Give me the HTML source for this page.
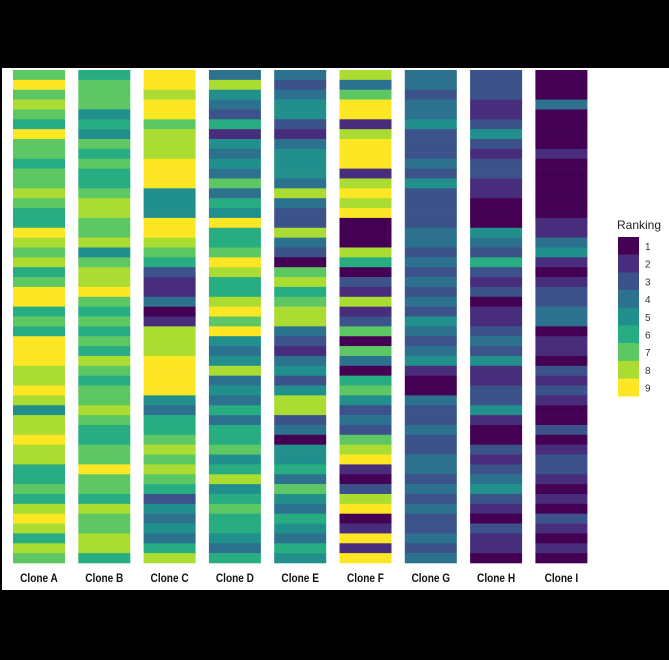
<!DOCTYPE html>
<html><head><meta charset="utf-8">
<style>
html,body{margin:0;padding:0;background:#000;width:669px;height:660px;overflow:hidden}
svg{display:block}
</style></head>
<body>
<svg id="chart" width="669" height="660" xmlns="http://www.w3.org/2000/svg">
<rect x="2" y="68" width="667" height="522" fill="#fff"/>
<g id="cells"></g>
<g id="labels" transform="scale(0.84,1)"></g>
<g id="legend">
<text x="617" y="229" font-family="Liberation Sans, sans-serif" font-size="12" fill="#222">Ranking</text>
</g>
</svg>
<script>
const clones = ["Clone A","Clone B","Clone C","Clone D","Clone E","Clone F","Clone G","Clone H","Clone I"];
const rankLevels = [1,2,3,4,5,6,7,8,9];
const rankColors = ["#440154","#472D7B","#3B528B","#2C728E","#21908C","#27AD81","#5DC863","#AADC32","#FDE725"];
const cloneA = [7,9,7,8,7,6,9,7,7,6,7,7,8,7,6,6,9,8,7,8,6,7,9,9,6, 7,6,9,9,9,8,8,9,8,5,8,8,9,8,8,6,6,7,6,8,9,8,6,8,7];
const cloneB = [6,7,7,7,5,6,5,7,6,7,6,6,7,8,8,7,7,8,5,7,8,8,9,7,6, 7,6,7,6,8,7,6,7,7,8,7,6,6,7,7,9,7,7,6,8,7,7,8,8,6];
const cloneC = [9,9,8,9,9,7,8,8,8,9,9,9,5,5,5,9,9,8,7,6,3,2,2,4,1, 2,8,8,8,9,9,9,9,5,4,6,6,7,8,7,8,7,6,3,5,4,5,4,6,8];
const cloneD = [4,8,5,4,3,6,2,5,4,5,4,7,4,6,5,9,6,6,7,9,8,6,6,8,9, 7,9,5,4,5,8,4,5,4,6,4,6,6,7,5,6,8,5,6,7,6,6,5,4,6];
const cloneE = [4,3,4,5,5,3,2,4,5,5,5,4,8,4,3,3,8,4,3,1,7,8,6,7,8, 8,4,3,2,4,5,3,5,8,8,3,4,1,5,5,6,4,7,5,4,6,5,4,6,5];
const cloneF = [8,4,7,9,9,2,8,9,9,9,2,8,9,8,9,1,1,1,8,6,1,3,2,8,2, 3,7,1,7,4,1,6,7,5,3,4,3,7,8,9,2,1,3,8,9,1,2,9,2,9];
const cloneG = [4,4,3,4,4,5,3,3,3,4,3,5,3,3,3,3,4,4,3,4,3,4,3,4,3, 5,4,3,4,5,2,1,1,4,3,3,4,3,3,4,4,3,4,3,4,3,3,4,3,4];
const cloneH = [3,3,3,2,2,3,5,3,2,3,3,2,2,1,1,1,5,4,3,6,3,2,3,1,2, 2,3,4,3,5,2,2,3,3,5,2,1,1,3,2,3,4,5,3,2,1,3,2,2,1];
const cloneI = [1,1,1,4,1,1,1,1,2,1,1,1,1,1,1,2,2,4,5,2,1,2,3,3,4, 4,1,2,2,1,3,2,3,2,1,1,3,1,2,3,3,2,1,2,1,3,2,1,2,1];
const series = [cloneA,cloneB,cloneC,cloneD,cloneE,cloneF,cloneG,cloneH,cloneI];

const NS="http://www.w3.org/2000/svg";
const top0=70, bottom0=563, left0=13, colStep=65.3, colW=52;
const xScale = i => left0 + i*colStep;
const nRows = cloneA.length;
const yScale = r => top0 + r*(bottom0-top0)/nRows;
const color = v => rankColors[rankLevels.indexOf(v)];
const cells=document.getElementById('cells');
const labels=document.getElementById('labels');
series.forEach((vals,ci)=>{
  vals.forEach((v,ri)=>{
    const r=document.createElementNS(NS,'rect');
    
    
    r.setAttribute('x',xScale(ci));
    r.setAttribute('y',yScale(ri));
    r.setAttribute('width',colW);
    r.setAttribute('height',yScale(ri+1)-yScale(ri)+0.3);
    r.setAttribute('fill',color(v));
    cells.appendChild(r);
  });
  const t=document.createElementNS(NS,'text');
  
  
  t.setAttribute('x',(xScale(ci)+colW/2)/0.84);
  t.setAttribute('y',582);
  t.setAttribute('text-anchor','middle');
  t.setAttribute('font-family','Liberation Sans, sans-serif');
  t.setAttribute('font-weight','bold');
  t.setAttribute('font-size','12');
  t.setAttribute('fill','#111');
  t.textContent=clones[ci];
  labels.appendChild(t);
});
const legend=document.getElementById('legend');
rankLevels.forEach((lv,i)=>{
  const r=document.createElementNS(NS,'rect');
  
  
  r.setAttribute('x',618);
  r.setAttribute('y',237+i*17.7);
  r.setAttribute('width',21);
  r.setAttribute('height',17.9);
  r.setAttribute('fill',rankColors[i]);
  legend.appendChild(r);
  const t=document.createElementNS(NS,'text');
  
  
  t.setAttribute('x',645);
  t.setAttribute('y',237+i*17.7+13);
  t.setAttribute('font-family','Liberation Sans, sans-serif');
  t.setAttribute('font-size','10');
  t.setAttribute('fill','#333');
  t.textContent=lv;
  legend.appendChild(t);
});
</script>
</body></html>
